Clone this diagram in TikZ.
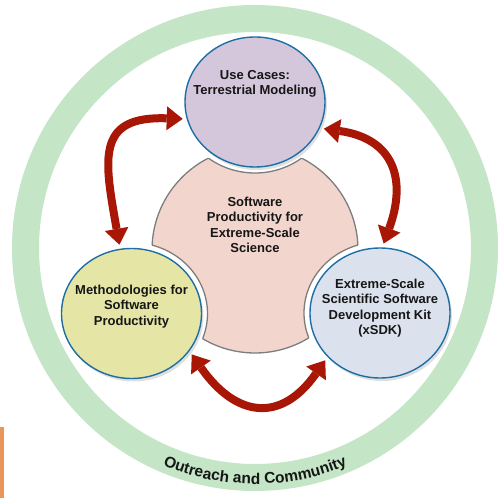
\documentclass[tikz,border=0pt]{standalone}
\usepackage{fontspec}
\setmainfont{Liberation Sans}
\usetikzlibrary{positioning,shapes.geometric,arrows.meta,shadows,decorations.text}

\definecolor{ringgreen}{RGB}{196,229,198}
\definecolor{usefill}{RGB}{212,199,220}
\definecolor{methfill}{RGB}{229,230,166}
\definecolor{sdkfill}{RGB}{219,226,237}
\definecolor{corefill}{RGB}{242,214,205}
\definecolor{coregray}{RGB}{125,125,125}
\definecolor{rimblue}{RGB}{28,110,165}
\definecolor{arrowred}{RGB}{168,22,6}
\definecolor{barorange}{RGB}{232,150,90}
\definecolor{inkblack}{RGB}{22,22,22}

\newcommand{\ringfont}{\fontsize{15.5}{18}\selectfont\bfseries\color{inkblack}}

\begin{document}
\begin{tikzpicture}[x=1pt,y=1pt,on grid,
    bubble/.style={ellipse,draw=rimblue,line width=1.4pt,minimum width=140pt,minimum height=130pt,inner sep=0pt,
      drop shadow={opacity=0.25,shadow xshift=2pt,shadow yshift=-3pt}},
    caption/.style={font=\fontsize{13}{15.5}\selectfont\bfseries,align=center,text=inkblack},
    swirl/.style={draw=arrowred,line width=8pt,
      {Triangle[width=24pt,length=16pt,line width=0pt]}-{Triangle[width=24pt,length=16pt,line width=0pt]},
      shorten >=4pt,shorten <=4pt}]
  \useasboundingbox (0,0) rectangle (500,498);
  \fill[barorange] (0,0) rectangle (4,71);
  % outer ring
  \coordinate (c_ring) at (255,250);
  \draw[ringgreen,line width=27pt] (c_ring) circle (229.5pt);
  \path[decorate,decoration={text along path,text align=center,text={|\ringfont|Outreach and Community}}]
    ([shift={(240:236pt)}]c_ring) arc[start angle=240,end angle=300,radius=236pt];
  % hub with three bites
  \coordinate (c_core) at (255,248);
  \coordinate (c_use)  at (255,396);
  \coordinate (c_meth) at (131.5,184.5);
  \coordinate (c_sdk)  at (380,185);
  \filldraw[fill=corefill,draw=coregray,line width=1.3pt] (c_core) circle (103pt);
  \begin{scope}
    \clip (c_core) circle (105pt);
    \fill[white] (c_use) ellipse (76pt and 71pt) (c_meth) ellipse (76pt and 71pt) (c_sdk) ellipse (76pt and 71pt);
  \end{scope}
  \begin{scope}
    \clip (c_core) circle (103pt);
    \draw[coregray,line width=1.3pt] (c_use) ellipse (76pt and 71pt) (c_meth) ellipse (76pt and 71pt) (c_sdk) ellipse (76pt and 71pt);
  \end{scope}
  \node[caption] (t_core) at ([yshift=25pt]c_core) {Software\\Productivity for\\Extreme-Scale\\Science};
  % the three topics
  \node[bubble,fill=usefill]  (n_use)  at (c_use)  {};
  \node[bubble,fill=methfill] (n_meth) at (c_meth) {};
  \node[bubble,fill=sdkfill]  (n_sdk)  at (c_sdk)  {};
  \node[caption] (t_use)  [above=18pt of n_use]  {Use Cases:\\Terrestrial Modeling};
  \node[caption] (t_meth) [above=7pt of n_meth]  {Methodologies for\\Software\\Productivity};
  \node[caption] (t_sdk)  [above=5pt of n_sdk]   {Extreme-Scale\\Scientific Software\\Development Kit\\(xSDK)};
  \draw[swirl] (n_use.194) to[out=178,in=100,looseness=1.6] (n_meth.100);
  \draw[swirl] (n_use.-22) to[out=-8,in=70,looseness=1.4] (n_sdk.88);
  \draw[swirl] (n_meth.-33) to[out=-55,in=-125,looseness=1.5] (n_sdk.220);
\end{tikzpicture}
\end{document}
